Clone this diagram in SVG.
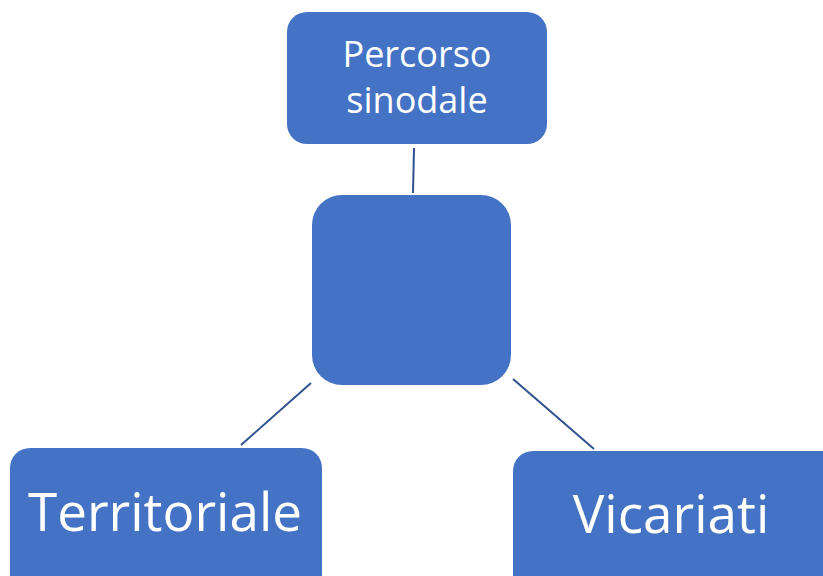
<svg xmlns="http://www.w3.org/2000/svg" width="823" height="576" viewBox="0 0 823 576">
<style>
.box{fill:#4472C4;}
.lbl{fill:#FFFFFF;font-family:"Open Sans","Noto Sans",sans-serif;text-anchor:middle;}
.conn{stroke:#2F528F;stroke-width:2;fill:none;}
</style>
<rect width="823" height="576" fill="#FFFFFF"/>
<g id="connectors">
<line class="conn" x1="414" y1="148" x2="413" y2="193"/>
<line class="conn" x1="311" y1="383" x2="241" y2="445"/>
<line class="conn" x1="513" y1="379" x2="594" y2="449"/>
</g>
<g id="node-percorso">
<rect class="box" x="287" y="12" width="260" height="132" rx="20"/>
<text class="lbl" x="417" y="67" font-size="36">Percorso</text>
<text class="lbl" x="417" y="113" font-size="36">sinodale</text>
</g>
<g id="node-center">
<rect class="box" x="312" y="195" width="199" height="190" rx="30"/>
</g>
<g id="node-territoriale">
<rect class="box" x="10" y="448" width="312" height="150" rx="20"/>
<text class="lbl" x="165" y="531" font-size="53">Territoriale</text>
</g>
<g id="node-vicariati">
<rect class="box" x="513" y="451" width="330" height="150" rx="20"/>
<text class="lbl" x="671" y="533" font-size="53">Vicariati</text>
</g>
</svg>
